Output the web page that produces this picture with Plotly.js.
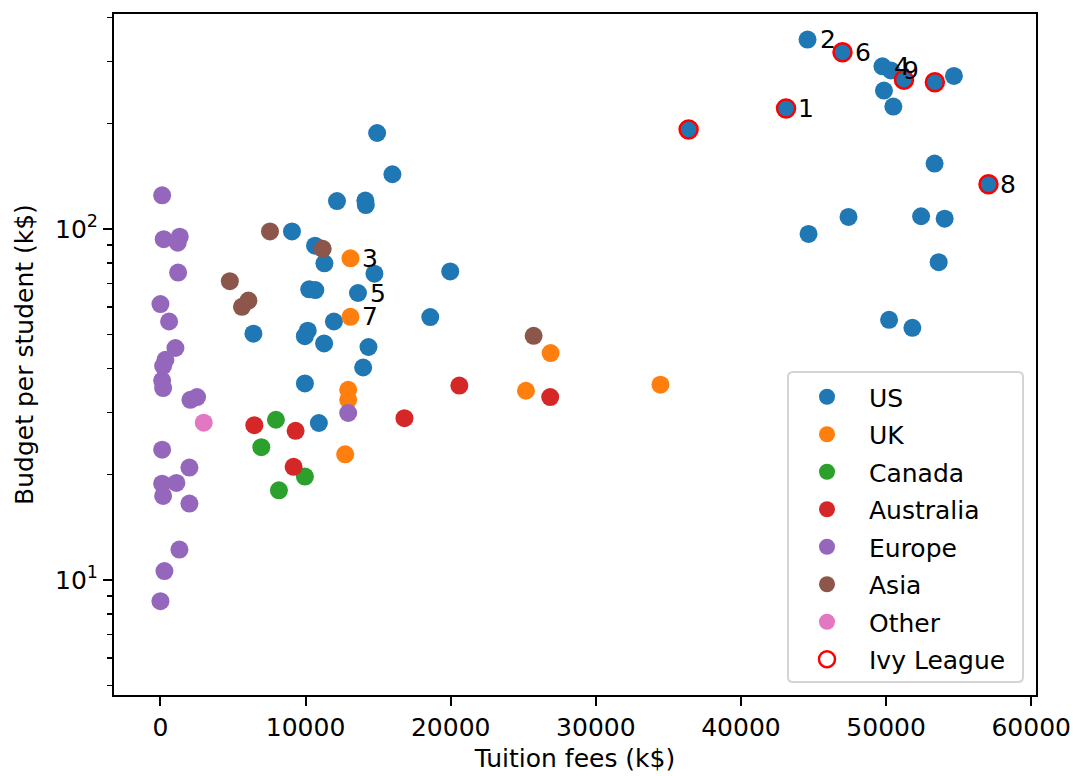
<!DOCTYPE html>
<html>
<head>
<meta charset="utf-8">
<script src="https://cdn.plot.ly/plotly-3.0.1.min.js"></script>
<style>html,body{margin:0;padding:0;background:#fff;}#chart{width:1073px;height:776px;}</style>
</head>
<body>
<div id="chart"></div>
<script>
// ---- data (tuition fees, budget per student) ----
const usX = [44588, 46997, 49749, 50334, 51235, 53361, 54676, 49853, 50500, 43109, 36393, 53341, 57056, 52412, 54036, 47410, 44657, 53625, 50207, 51813,
             14931, 15984, 12165, 14119, 14150, 9062, 10652, 11298, 14745, 19968, 10252, 10672, 13611, 11952, 18592, 6406, 10150, 9950, 11278, 14335, 13968, 9955, 10916];
const usY = [346.6, 318.6, 290.7, 283, 266.4, 262, 272.9, 248, 223.2, 220.3, 192.2, 153.6, 134, 108.7, 107, 108.2, 96.8, 80.4, 55.1, 52.3,
             187.7, 143.2, 120.1, 120.5, 117, 98.4, 89.6, 79.8, 74.6, 75.7, 67.3, 67, 65.7, 54.5, 56.1, 50.3, 51.3, 49.5, 47.2, 46.1, 40.3, 36.3, 28.0];

const ukX = [13094, 13094, 12936, 12936, 12730, 26884, 25184, 34452];
const ukY = [82.5, 56.2, 34.8, 32.6, 22.8, 44.3, 34.6, 36.0];

const canadaX = [7958, 6950, 9955, 8165];
const canadaY = [28.6, 23.9, 19.7, 18.0];

const australiaX = [6469, 9313, 9175, 16813, 20597, 26857];
const australiaY = [27.6, 26.6, 21.0, 28.9, 35.8, 33.2];

const europeX = [117, 227, 1330, 1193, 1216, 0, 596, 1032, 344, 184, 117, 184, 2064, 2523, 12936, 117, 1996, 117, 1101, 184, 1996, 1307, 275, 0];
const europeY = [124.7, 93.5, 95.1, 91.4, 75.1, 61.1, 54.5, 45.8, 42.4, 40.7, 37.0, 35.2, 32.6, 33.2, 29.9, 23.5, 20.9, 18.8, 18.9, 17.35, 16.5, 12.2, 10.6, 8.7];

const asiaX = [7548, 11181, 4782, 6062, 5615, 25714];
const asiaY = [98.4, 87.8, 71, 62.5, 60, 49.6];

const otherX = [2982];
const otherY = [28.05];

const ivyX = [43109, 46997, 51235, 53361, 36393, 57056];
const ivyY = [220.3, 318.6, 266.4, 262, 192.2, 134];

// ranked universities labels
const rankText = ['1', '2', '3', '4', '5', '6', '7', '8', '9'];
const rankX = [43109, 44588, 13094, 49749, 13611, 46997, 13094, 57056, 50334];
const rankY = [220.3, 346.6, 82.5, 290.7, 65.7, 318.6, 56.2, 134, 283];

const yTickVals = [10, 100];
const yTickText = ['10<sup>1</sup>', '10<sup>2</sup>'];
const yMinorVals = [5, 6, 7, 8, 9, 20, 30, 40, 50, 60, 70, 80, 90, 200, 300, 400];
const xTickVals = [0, 10000, 20000, 30000, 40000, 50000, 60000];

// ---- styling ----
const FONT = 'DejaVu Sans, sans-serif';
const MS = 18;
function pts(name, x, y, color, i) {
  return {type: 'scatter', mode: 'markers', name: name, x: x, y: y,
    legendgroup: 'g' + i,
    marker: {color: color, size: MS, line: {width: 0}}, hoverinfo: 'skip'};
}
const traces = [
  pts('US', usX, usY, '#1f77b4', 0),
  pts('UK', ukX, ukY, '#ff7f0e', 1),
  pts('Canada', canadaX, canadaY, '#2ca02c', 2),
  pts('Australia', australiaX, australiaY, '#d62728', 3),
  pts('Europe', europeX, europeY, '#9467bd', 4),
  pts('Asia', asiaX, asiaY, '#8c564b', 5),
  pts('Other', otherX, otherY, '#e377c2', 6),
  {type: 'scatter', mode: 'markers', name: 'Ivy League', x: ivyX, y: ivyY, legendgroup: 'g7',
   marker: {color: 'rgba(0,0,0,0)', size: MS, line: {color: '#ff0000', width: 2.5}}, hoverinfo: 'skip'}
];

const annotations = rankText.map((t, i) => ({
  x: rankX[i], y: Math.log10(rankY[i]), xref: 'x', yref: 'y', text: t, showarrow: false,
  xanchor: 'left', yanchor: 'middle', xshift: 10, font: {family: FONT, size: 25, color: '#000'}
}));

// legend frame (rounded box, matplotlib style) in paper coordinates
const M = {l: 114, r: 37, t: 14, b: 81};
const PW = 1073 - M.l - M.r, PH = 776 - M.t - M.b;
const bx0 = (788 - M.l) / PW, bx1 = (1023 - M.l) / PW;
const byT = (776 - M.b - 372) / PH, byB = (776 - M.b - 682) / PH;
const rx = 5 / PW, ry = 5 / PH;
const framePath = 'M' + (bx0 + rx) + ',' + byT + ' L' + (bx1 - rx) + ',' + byT +
  ' Q' + bx1 + ',' + byT + ' ' + bx1 + ',' + (byT - ry) +
  ' L' + bx1 + ',' + (byB + ry) + ' Q' + bx1 + ',' + byB + ' ' + (bx1 - rx) + ',' + byB +
  ' L' + (bx0 + rx) + ',' + byB + ' Q' + bx0 + ',' + byB + ' ' + bx0 + ',' + (byB + ry) +
  ' L' + bx0 + ',' + (byT - ry) + ' Q' + bx0 + ',' + byT + ' ' + (bx0 + rx) + ',' + byT + ' Z';

const layout = {
  width: 1073, height: 776,
  margin: M,
  paper_bgcolor: '#fff', plot_bgcolor: '#fff',
  font: {family: FONT, size: 25, color: '#000'},
  showlegend: true,
  xaxis: {
    range: [-3200, 60330], showgrid: false, zeroline: false,
    showline: true, mirror: true, linecolor: '#000', linewidth: 2,
    ticks: 'outside', ticklen: 9, tickwidth: 2, tickcolor: '#000',
    tickmode: 'array', tickvals: xTickVals, tickformat: 'd',
    tickfont: {family: FONT, size: 25},
    title: {text: 'Tuition fees (k$)', font: {family: FONT, size: 25}, standoff: 8}
  },
  yaxis: {
    type: 'log', range: [Math.log10(4.7), Math.log10(409.8)], showgrid: false, zeroline: false,
    showline: true, mirror: true, linecolor: '#000', linewidth: 2,
    ticks: 'outside', ticklen: 9, tickwidth: 2, tickcolor: '#000',
    tickmode: 'array', tickvals: yTickVals, ticktext: yTickText,
    tickfont: {family: FONT, size: 25},
    minor: {tickmode: 'array', tickvals: yMinorVals, ticks: 'outside', ticklen: 5, tickwidth: 1.5, tickcolor: '#000', showgrid: false},
    title: {text: 'Budget per student (k$)', font: {family: FONT, size: 25}, standoff: 14}
  },
  shapes: [{type: 'path', xref: 'paper', yref: 'paper', path: framePath, layer: 'above',
            fillcolor: 'rgba(255,255,255,0.85)', line: {color: '#d4d4d4', width: 2}}],
  legend: {
    x: (785 - M.l) / PW, y: (776 - M.b - 374) / PH, xanchor: 'left', yanchor: 'top',
    bgcolor: 'rgba(0,0,0,0)', borderwidth: 0,
    font: {family: FONT, size: 25, color: '#000'},
    itemwidth: 74, tracegroupgap: 2, itemclick: false, itemdoubleclick: false
  },
  annotations: annotations
};

Plotly.newPlot('chart', traces, layout, {staticPlot: true, displayModeBar: false});
</script>
</body>
</html>
